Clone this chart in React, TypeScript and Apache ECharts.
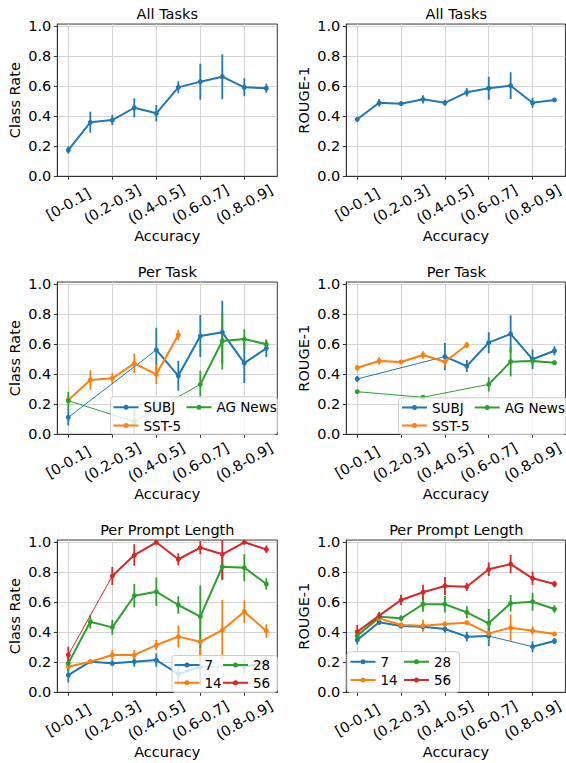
import React, { useEffect, useRef } from 'react';
import * as echarts from 'echarts';

const FONT = 'DejaVu Sans';
const BLUE = '#1f77b4';
const ORANGE = '#ff7f0e';
const GREEN = '#2ca02c';
const RED = '#d62728';

const bins = ['[0-0.1]', '(0.1-0.2]', '(0.2-0.3]', '(0.3-0.4]', '(0.4-0.5]', '(0.5-0.6]', '(0.6-0.7]', '(0.7-0.8]', '(0.8-0.9]', '(0.9-1.0]'];
const yTicks = [0, 0.2, 0.4, 0.6, 0.8, 1.0];

// All Tasks
const allClassMean = [0.175, 0.36, 0.375, 0.457, 0.42, 0.593, 0.631, 0.664, 0.593, 0.587];
const allClassErr = [0.025, 0.07, 0.033, 0.063, 0.055, 0.04, 0.12, 0.15, 0.06, 0.03];
const allRougeMean = [0.38, 0.49, 0.484, 0.513, 0.49, 0.56, 0.587, 0.604, 0.49, 0.509];
const allRougeErr = [0.015, 0.025, 0.015, 0.028, 0.02, 0.028, 0.077, 0.089, 0.033, 0.012];

// Per Task
const subjClassMean = [0.113, null, null, null, 0.563, 0.39, 0.655, 0.68, 0.475, 0.573];
const subjClassErr = [0.055, null, null, null, 0.147, 0.1, 0.14, 0.21, 0.133, 0.058];
const sstClassMean = [0.229, 0.362, 0.373, 0.473, 0.4, 0.662, null, null, null, null];
const sstClassErr = [0.02, 0.065, 0.035, 0.065, 0.065, 0.035, null, null, null, null];
const agClassMean = [0.224, null, null, 0.084, null, null, 0.333, 0.622, 0.635, 0.6];
const agClassErr = [0.06, null, null, 0.085, null, null, 0.09, 0.19, 0.065, 0.03];

const subjRougeMean = [0.369, null, null, null, 0.518, 0.455, 0.611, 0.669, 0.5, 0.557];
const subjRougeErr = [0.02, null, null, null, 0.09, 0.04, 0.07, 0.125, 0.065, 0.03];
const sstRougeMean = [0.444, 0.489, 0.482, 0.529, 0.484, 0.595, null, null, null, null];
const sstRougeErr = [0.02, 0.025, 0.012, 0.025, 0.033, 0.022, null, null, null, null];
const agRougeMean = [0.284, null, null, 0.247, null, null, 0.333, 0.484, 0.489, 0.477];
const agRougeErr = [0.012, null, null, 0.01, null, null, 0.047, 0.098, 0.025, 0.015];

// Per Prompt Length
const len7ClassMean = [0.115, 0.204, 0.193, 0.204, 0.215, 0.122, 0.17, null, 0.17, 0.2];
const len7ClassErr = [0.05, 0.01, 0.02, 0.033, 0.045, 0.05, 0.12, null, 0.05, 0.04];
const len14ClassMean = [0.171, 0.204, 0.249, 0.249, 0.315, 0.371, 0.337, 0.415, 0.537, 0.409];
const len14ClassErr = [0.015, 0.01, 0.033, 0.033, 0.033, 0.072, 0.2, 0.2, 0.075, 0.045];
const len28ClassMean = [0.193, 0.47, 0.433, 0.644, 0.671, 0.582, 0.504, 0.837, 0.831, 0.722];
const len28ClassErr = [0.055, 0.045, 0.05, 0.078, 0.095, 0.058, 0.21, 0.09, 0.09, 0.038];
const len56ClassMean = [0.249, null, 0.775, 0.915, 1.0, 0.887, 0.965, 0.92, 1.0, 0.953];
const len56ClassErr = [0.055, null, 0.06, 0.072, 0.0, 0.04, 0.045, 0.17, 0.0, 0.025];

const len7RougeMean = [0.349, 0.467, 0.442, 0.437, 0.422, 0.371, 0.375, null, 0.304, 0.342];
const len7RougeErr = [0.03, 0.015, 0.015, 0.02, 0.025, 0.033, 0.067, null, 0.037, 0.02];
const len14RougeMean = [0.382, 0.493, 0.449, 0.444, 0.455, 0.464, 0.393, 0.431, 0.411, 0.389];
const len14RougeErr = [0.02, 0.015, 0.015, 0.04, 0.015, 0.015, 0.045, 0.087, 0.027, 0.015];
const len28RougeMean = [0.375, 0.504, 0.493, 0.587, 0.587, 0.533, 0.46, 0.593, 0.604, 0.555];
const len28RougeErr = [0.02, 0.033, 0.02, 0.05, 0.055, 0.04, 0.095, 0.055, 0.06, 0.025];
const len56RougeMean = [0.404, 0.511, 0.615, 0.667, 0.709, 0.704, 0.82, 0.855, 0.76, 0.722];
const len56RougeErr = [0.045, 0.02, 0.033, 0.05, 0.06, 0.027, 0.045, 0.06, 0.045, 0.022];

type Line = { name: string; color: string; mean: (number | null)[]; err: (number | null)[] };
type LegendItem = { name: string; x: number; y: number };
type Panel = {
  row: number; col: number; title: string; yName: string; lines: Line[];
  legendBox?: [number, number, number, number]; legendItems?: LegendItem[];
};

const panels: Panel[] = [
  { row: 0, col: 0, title: 'All Tasks', yName: 'Class Rate', lines: [{ name: 'All Tasks', color: BLUE, mean: allClassMean, err: allClassErr }] },
  { row: 0, col: 1, title: 'All Tasks', yName: 'ROUGE-1', lines: [{ name: 'All Tasks', color: BLUE, mean: allRougeMean, err: allRougeErr }] },
  {
    row: 1, col: 0, title: 'Per Task', yName: 'Class Rate',
    lines: [
      { name: 'SUBJ', color: BLUE, mean: subjClassMean, err: subjClassErr },
      { name: 'SST-5', color: ORANGE, mean: sstClassMean, err: sstClassErr },
      { name: 'AG News', color: GREEN, mean: agClassMean, err: agClassErr },
    ],
    legendBox: [110.5, 396.8, 166.8, 37.5],
    legendItems: [{ name: 'SUBJ', x: 113.5, y: 407.3 }, { name: 'AG News', x: 186.5, y: 407.3 }, { name: 'SST-5', x: 113.5, y: 425.5 }],
  },
  {
    row: 1, col: 1, title: 'Per Task', yName: 'ROUGE-1',
    lines: [
      { name: 'SUBJ', color: BLUE, mean: subjRougeMean, err: subjRougeErr },
      { name: 'SST-5', color: ORANGE, mean: sstRougeMean, err: sstRougeErr },
      { name: 'AG News', color: GREEN, mean: agRougeMean, err: agRougeErr },
    ],
    legendBox: [398.5, 397.8, 168, 36.5],
    legendItems: [{ name: 'SUBJ', x: 402, y: 407.5 }, { name: 'AG News', x: 474.7, y: 407.5 }, { name: 'SST-5', x: 402, y: 425.5 }],
  },
  {
    row: 2, col: 0, title: 'Per Prompt Length', yName: 'Class Rate',
    lines: [
      { name: '7', color: BLUE, mean: len7ClassMean, err: len7ClassErr },
      { name: '14', color: ORANGE, mean: len14ClassMean, err: len14ClassErr },
      { name: '28', color: GREEN, mean: len28ClassMean, err: len28ClassErr },
      { name: '56', color: RED, mean: len56ClassMean, err: len56ClassErr },
    ],
    legendBox: [172, 655.5, 105.3, 36.8],
    legendItems: [{ name: '7', x: 174.5, y: 665 }, { name: '28', x: 223, y: 665 }, { name: '14', x: 174.5, y: 682.7 }, { name: '56', x: 223, y: 682.7 }],
  },
  {
    row: 2, col: 1, title: 'Per Prompt Length', yName: 'ROUGE-1',
    lines: [
      { name: '7', color: BLUE, mean: len7RougeMean, err: len7RougeErr },
      { name: '14', color: ORANGE, mean: len14RougeMean, err: len14RougeErr },
      { name: '28', color: GREEN, mean: len28RougeMean, err: len28RougeErr },
      { name: '56', color: RED, mean: len56RougeMean, err: len56RougeErr },
    ],
    legendBox: [347, 651.8, 112.5, 40.5],
    legendItems: [{ name: '7', x: 350.5, y: 661.7 }, { name: '28', x: 404, y: 661.7 }, { name: '14', x: 350.5, y: 680 }, { name: '56', x: 404, y: 680 }],
  },
];

const colLeft = [57.3, 346.3];
const axisBottom = [176.3, 434.3, 692.3];
const GRID_W = 220;
const YMAX = 1.015;
const GRID_H = 150 * YMAX;
const AXIS_COLOR = '#333333';
const GRID_COLOR = '#d4d4d4';
const FS = 14.5;
const LEGEND_FS = 13.5;
const LEGEND_ICON = 'path://M0,1.5H25V3.5H0Z M10,2.5a2.5,2.5 0 1,1 5,0a2.5,2.5 0 1,1 -5,0Z';

function buildOption() {
  const grid: any[] = [];
  const xAxis: any[] = [];
  const yAxis: any[] = [];
  const series: any[] = [];
  const legend: any[] = [];
  const graphic: any[] = [];

  panels.forEach((p, k) => {
    const left = colLeft[p.col];
    const top = axisBottom[p.row] - GRID_H;
    grid.push({ left, top, width: GRID_W, height: GRID_H, show: true, borderColor: AXIS_COLOR, borderWidth: 1, backgroundColor: 'transparent' });
    xAxis.push({
      gridIndex: k, type: 'category', data: bins, boundaryGap: true,
      axisLine: { show: true, lineStyle: { color: AXIS_COLOR, width: 1 } },
      axisTick: { show: true, alignWithLabel: true, interval: 1, length: 3.5, lineStyle: { color: AXIS_COLOR } },
      axisLabel: { interval: 1, rotate: 30, align: 'center', verticalAlign: 'middle', margin: 28, fontSize: FS, color: '#000', fontFamily: FONT },
      splitLine: { show: true, interval: 1, alignWithLabel: true, lineStyle: { color: GRID_COLOR, width: 1 } },
      name: 'Accuracy', nameLocation: 'middle', nameGap: 51,
      nameTextStyle: { fontSize: FS, color: '#000', fontFamily: FONT },
    });
    yAxis.push({
      gridIndex: k, type: 'value', min: 0, max: YMAX, interval: 0.2,
      axisLine: { show: true, lineStyle: { color: AXIS_COLOR, width: 1 } },
      axisTick: { show: true, length: 3.5, customValues: yTicks, lineStyle: { color: AXIS_COLOR } },
      axisLabel: { customValues: yTicks, formatter: (v: number) => v.toFixed(1), margin: 6, fontSize: FS, color: '#000', fontFamily: FONT },
      splitLine: { show: true, lineStyle: { color: GRID_COLOR, width: 1 } },
      name: p.yName, nameLocation: 'middle', nameGap: 35, nameRotate: 90,
      nameTextStyle: { fontSize: FS, color: '#000', fontFamily: FONT },
    });
    graphic.push({
      type: 'text', x: left + GRID_W / 2, y: top - 3, z: 5,
      style: { text: p.title, fontSize: FS, fontFamily: FONT, fill: '#000', align: 'center', verticalAlign: 'bottom' },
    });

    p.lines.forEach((ln) => {
      const errData: any[] = [];
      ln.mean.forEach((m, i) => {
        if (m != null) {
          const e = ln.err[i] || 0;
          errData.push([i, m - e, m + e]);
        }
      });
      series.push({
        type: 'custom', name: ln.name + ' err', xAxisIndex: k, yAxisIndex: k, clip: true, silent: true, z: 2,
        data: errData,
        encode: { x: 0, y: [1, 2] },
        renderItem: (_params: any, api: any) => {
          const x = api.value(0);
          const a = api.coord([x, api.value(1)]);
          const b = api.coord([x, api.value(2)]);
          return { type: 'line', shape: { x1: a[0], y1: a[1], x2: b[0], y2: b[1] }, style: { stroke: ln.color, lineWidth: 1.8 } };
        },
      });
      const hasGap = ln.mean.some((m) => m == null) && ln.mean.filter((m) => m != null).length > 1;
      if (hasGap) {
        series.push({
          type: 'line', name: ln.name + ' gap', xAxisIndex: k, yAxisIndex: k, data: ln.mean, connectNulls: true,
          symbol: 'none', showSymbol: false, silent: true, z: 2,
          lineStyle: { color: ln.color, width: 1 }, itemStyle: { color: ln.color },
        });
      }
      series.push({
        type: 'line', name: ln.name, xAxisIndex: k, yAxisIndex: k, data: ln.mean, connectNulls: false,
        symbol: 'circle', symbolSize: 5, showSymbol: true, showAllSymbol: true, silent: true, z: 3,
        lineStyle: { color: ln.color, width: 2 }, itemStyle: { color: ln.color },
      });
    });

    if (p.legendBox && p.legendItems) {
      const [bx, by, bw, bh] = p.legendBox;
      graphic.push({
        type: 'rect', z: 15, shape: { x: bx, y: by, width: bw, height: bh, r: 3 },
        style: { fill: 'rgba(255,255,255,0.8)', stroke: '#cccccc', lineWidth: 1 },
      });
      p.legendItems.forEach((it) => {
        legend.push({
          data: [{ name: it.name, icon: LEGEND_ICON }], left: it.x, top: it.y - 8, padding: 0, itemGap: 0,
          itemWidth: 25, itemHeight: 5, selectedMode: false, z: 20,
          textStyle: { fontSize: LEGEND_FS, fontFamily: FONT, color: '#000', lineHeight: 16 },
        });
      });
    }
  });

  return { animation: false, backgroundColor: '#ffffff', grid, xAxis, yAxis, series, legend, graphic };
}

export default function App() {
  const ref = useRef<HTMLDivElement>(null);
  useEffect(() => {
    if (!ref.current) return;
    const chart = echarts.init(ref.current, undefined, { renderer: 'svg' });
    chart.setOption(buildOption() as any);
    return () => chart.dispose();
  }, []);
  return <div ref={ref} style={{ position: 'absolute', left: 0, top: 0, width: 566, height: 763 }} />;
}
